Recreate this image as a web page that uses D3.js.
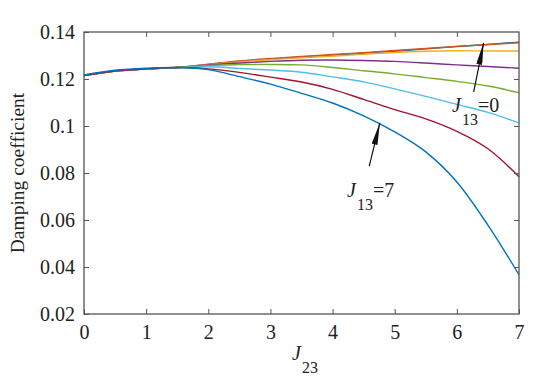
<!DOCTYPE html>
<html>
<head>
<meta charset="utf-8">
<script src="https://cdn.jsdelivr.net/npm/d3@7"></script>
<style>
  body { margin: 0; background: #fff; }
</style>
</head>
<body>
<svg id="chart" width="550" height="389"></svg>
<script>
var svg = d3.select("#chart"),
    width = +svg.attr("width"),
    height = +svg.attr("height");

var serif = "'Liberation Serif', 'Times New Roman', serif";

// J23 sample points
var j23 = [0, 0.5, 1, 1.5, 2, 2.5, 3, 3.5, 4, 4.5, 5, 5.5, 6, 6.5, 7];

// damping coefficient, one list per J13 value
var j13_0 = [0.1215, 0.1234, 0.1243, 0.1249, 0.1262, 0.1275, 0.1285, 0.1294, 0.1302, 0.1310, 0.1318, 0.1328, 0.1338, 0.1347, 0.1357];
var j13_1 = [0.1215, 0.1234, 0.1243, 0.1249, 0.1263, 0.1277, 0.1287, 0.1296, 0.1304, 0.1312, 0.1321, 0.1330, 0.1339, 0.1347, 0.1354];
var j13_2 = [0.1215, 0.1234, 0.1243, 0.1249, 0.1261, 0.1273, 0.1282, 0.1290, 0.1297, 0.1305, 0.1313, 0.1318, 0.1320, 0.1319, 0.1319];
var j13_3 = [0.1215, 0.1234, 0.1243, 0.1249, 0.1260, 0.1268, 0.1275, 0.1280, 0.1281, 0.1279, 0.1275, 0.1268, 0.1260, 0.1253, 0.1246];
var j13_4 = [0.1215, 0.1234, 0.1243, 0.1249, 0.1258, 0.1261, 0.1262, 0.1260, 0.1249, 0.1235, 0.1222, 0.1206, 0.1190, 0.1170, 0.1142];
var j13_5 = [0.1215, 0.1234, 0.1243, 0.1249, 0.1252, 0.1245, 0.1238, 0.1229, 0.1209, 0.1188, 0.1158, 0.1126, 0.1092, 0.1058, 0.1013];
var j13_6 = [0.1215, 0.1234, 0.1243, 0.1249, 0.1243, 0.1228, 0.1208, 0.1187, 0.1156, 0.1113, 0.1070, 0.1030, 0.0977, 0.0903, 0.0784];
var j13_7 = [0.1217, 0.1237, 0.1246, 0.1249, 0.1240, 0.1210, 0.1178, 0.1139, 0.1098, 0.1043, 0.0975, 0.0890, 0.0762, 0.0578, 0.0367];

var series = [j13_0, j13_1, j13_2, j13_3, j13_4, j13_5, j13_6, j13_7];
// MATLAB default colour order
var colors = ["#0072BD", "#D95319", "#EDB120", "#7E2F8E", "#77AC30", "#4DBEEE", "#A2142F", "#0072BD"];

var xTicks = [0, 1, 2, 3, 4, 5, 6, 7];
var yTicks = [0.02, 0.04, 0.06, 0.08, 0.1, 0.12, 0.14];

var margin = { left: 84, right: 31, top: 32, bottom: 75 };

var x = d3.scaleLinear()
    .domain([0, 7])
    .range([margin.left, width - margin.right]);

var y = d3.scaleLinear()
    .domain([0.02, 0.14])
    .range([height - margin.bottom, margin.top]);

var axisColor = "#555";

// curves
var line = d3.line()
    .x(function (d, i) { return x(j23[i]); })
    .y(function (d) { return y(d); })
    .curve(d3.curveCatmullRom);

svg.append("g").selectAll("path")
    .data(series)
    .enter().append("path")
    .attr("d", line)
    .attr("fill", "none")
    .attr("stroke", function (d, i) { return colors[i]; })
    .attr("stroke-width", 1.4);

// axes (ticks pointing inward, mirrored on top and right)
function styleAxis(g) {
    g.attr("font-family", serif).attr("font-size", 20);
    g.select(".domain").remove();
    g.selectAll(".tick line").attr("stroke", axisColor);
    g.selectAll(".tick text").attr("fill", "#222");
}

svg.append("g")
    .attr("transform", "translate(0," + y(0.02) + ")")
    .call(d3.axisBottom(x).tickValues(xTicks).tickFormat(d3.format("d"))
        .tickSizeInner(-5).tickSizeOuter(0).tickPadding(11))
    .call(styleAxis);

svg.append("g")
    .attr("transform", "translate(0," + y(0.14) + ")")
    .call(d3.axisTop(x).tickValues(xTicks.slice(1, -1)).tickFormat("")
        .tickSizeInner(-5).tickSizeOuter(0))
    .call(styleAxis);

svg.append("g")
    .attr("transform", "translate(" + x(0) + ",0)")
    .call(d3.axisLeft(y).tickValues(yTicks).tickFormat(function (d) { return String(+d.toFixed(2)); })
        .tickSizeInner(-5).tickSizeOuter(0).tickPadding(9))
    .call(styleAxis);

svg.append("g")
    .attr("transform", "translate(" + x(7) + ",0)")
    .call(d3.axisRight(y).tickValues(yTicks.slice(1, -1)).tickFormat("")
        .tickSizeInner(-5).tickSizeOuter(0))
    .call(styleAxis);

// box
svg.append("rect")
    .attr("x", x(0))
    .attr("y", y(0.14))
    .attr("width", x(7) - x(0))
    .attr("height", y(0.02) - y(0.14))
    .attr("fill", "none")
    .attr("stroke", axisColor)
    .attr("stroke-width", 1.3);

// axis titles
svg.append("text")
    .attr("transform", "translate(24," + ((y(0.02) + y(0.14)) / 2) + ") rotate(-90)")
    .attr("text-anchor", "middle")
    .attr("font-family", serif)
    .attr("font-size", 19.5)
    .attr("fill", "#222")
    .text("Damping coefficient");

function subLabel(px, py, sub, rest) {
    var t = svg.append("text")
        .attr("x", px)
        .attr("y", py)
        .attr("font-family", serif)
        .attr("font-size", 20)
        .attr("fill", "#222");
    t.append("tspan").style("font-style", "italic").text("J");
    t.append("tspan").attr("dy", 13).attr("dx", 1).attr("font-size", 16).text(sub);
    if (rest) t.append("tspan").attr("dy", -13).text(rest);
}

subLabel(292, 360, "23");

// annotations with arrows
svg.append("defs").append("marker")
    .attr("id", "head")
    .attr("viewBox", "0 0 22 6")
    .attr("refX", 22).attr("refY", 3)
    .attr("markerWidth", 22).attr("markerHeight", 6)
    .attr("markerUnits", "userSpaceOnUse")
    .attr("orient", "auto")
    .append("path")
    .attr("d", "M0,0 L22,3 L0,6 Z")
    .attr("fill", "#111");

function arrow(x1, y1, x2, y2) {
    svg.append("line")
        .attr("x1", x(x1)).attr("y1", y(y1))
        .attr("x2", x(x2)).attr("y2", y(y2))
        .attr("stroke", "#111")
        .attr("stroke-width", 1.2)
        .attr("marker-end", "url(#head)");
}

arrow(6.27, 0.1144, 6.43, 0.1354);
subLabel(452, 112, "13", "=0");

arrow(4.59, 0.0829, 4.76, 0.1013);
subLabel(347, 197, "13", "=7");
</script>
</body>
</html>
